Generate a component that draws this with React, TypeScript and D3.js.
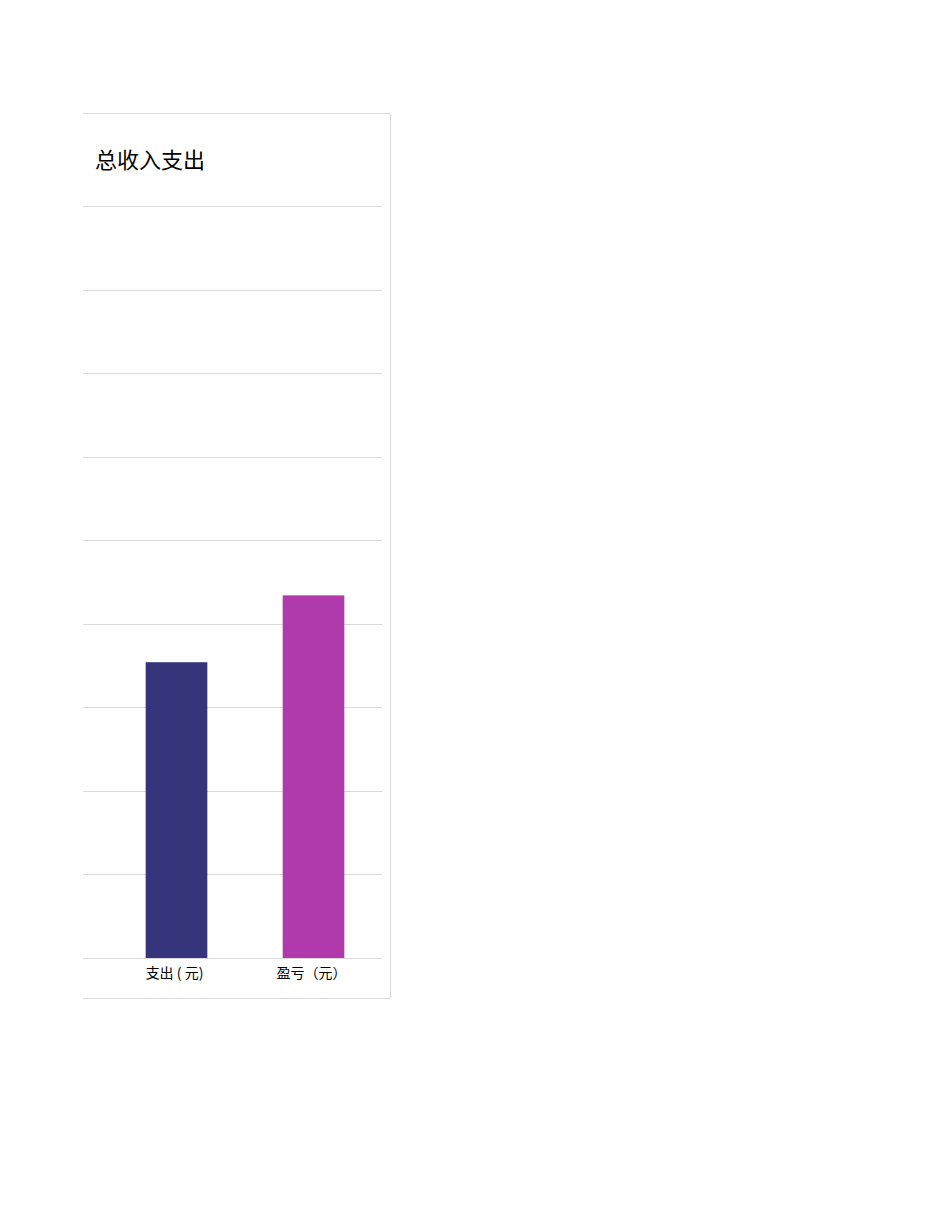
import React from 'react';
import * as d3 from 'd3';

const categories = ['支出 ( 元)', '盈亏（元）'];
const values = [35400, 43400];
const barColors = ['#36347a', '#b03aab'];
const yTicks = [0, 10000, 20000, 30000, 40000, 50000, 60000, 70000, 80000, 90000];
const title = '总收入支出';

const W = 950;
const H = 1230;
const frame = { left: 83, top: 113, right: 391, bottom: 999 };
const plot = { left: 108, right: 382, top: 206, bottom: 958 };
const FONT = '"Noto Sans CJK SC", "Noto Sans", sans-serif';

export default function App() {
  const x = d3.scaleBand<string>()
    .domain(categories)
    .range([plot.left, plot.right])
    .paddingInner(0.55)
    .paddingOuter(0.275);

  const y = d3.scaleLinear()
    .domain([0, 90000])
    .range([plot.bottom, plot.top]);

  return (
    <svg width={W} height={H} style={{ position: 'absolute', left: 0, top: 0, background: '#fff' }}>
      {/* frame, left side is cut off */}
      <path
        d={`M${frame.left},${frame.top + 0.5} H${frame.right - 0.5} V${frame.bottom - 0.5} H${frame.left}`}
        fill="none"
        stroke="#d9d9d9"
        strokeWidth={1}
      />
      <text x={95} y={168} fontFamily={FONT} fontSize={22} fill="#000">{title}</text>

      {yTicks.map(t => (
        <line
          key={t}
          x1={frame.left}
          x2={plot.right}
          y1={Math.round(y(t)) + 0.5}
          y2={Math.round(y(t)) + 0.5}
          stroke="#d9d9d9"
          strokeWidth={1}
        />
      ))}

      {categories.map((c, i) => (
        <rect
          key={c}
          x={x(c)}
          y={y(values[i])}
          width={x.bandwidth()}
          height={y(0) - y(values[i])}
          fill={barColors[i]}
        />
      ))}

      {categories.map(c => (
        <text
          key={c}
          x={(x(c) ?? 0) + x.bandwidth() / 2 - 2}
          y={978}
          textAnchor="middle"
          fontFamily={FONT}
          fontSize={14}
          fill="#000"
        >
          {c}
        </text>
      ))}
    </svg>
  );
}
